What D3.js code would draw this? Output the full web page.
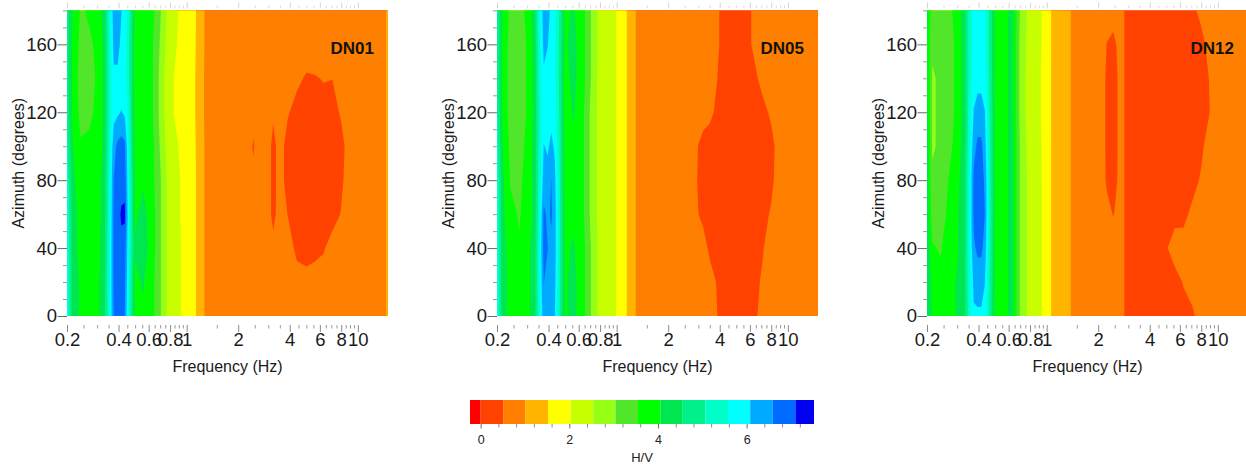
<!DOCTYPE html>
<html>
<head>
<meta charset="utf-8">
<script src="https://cdn.jsdelivr.net/npm/d3@7"></script>
<style>
  html, body { margin: 0; padding: 0; background: #ffffff; }
  svg { display: block; font-family: "Liberation Sans", Arial, Helvetica, sans-serif; }
</style>
</head>
<body>
<svg id="chart" width="1246" height="464"></svg>
<script>
// Frequency samples (Hz) of the H/V grids, one per column
const frequencies = [0.2, 0.215, 0.24, 0.27, 0.3, 0.33, 0.355, 0.375, 0.395, 0.415, 0.435, 0.455,
  0.5, 0.56, 0.63, 0.7, 0.78, 0.87, 0.97, 1.08, 1.2, 1.32,
  1.6, 2.0, 2.25, 2.45, 2.7, 3.0, 3.2, 3.5, 3.9, 4.4,
  5.0, 5.6, 6.3, 7.1, 8.0, 9.0, 11.0, 13.5, 14.4, 15.0];

// Azimuth samples (degrees), one per row
const azimuths = [0, 20, 40, 60, 80, 100, 120, 140, 160, 180];

const stations = ["DN01", "DN05", "DN12"];

// H/V ratio per azimuth row (0 -> 180 deg), per frequency column
const hvDN01 = [
  [5.7,4.3,4.0,3.8,3.9,4.4,5.6,6.6,6.8,6.8,6.6,5.6, 4.0,4.0,3.7,3.1,2.4,2.2,1.9,1.75,1.25,0.85, 0.75,0.72,0.72,0.72,0.72,0.72,0.72,0.72,0.7,0.7, 0.7,0.7,0.7,0.72,0.72,0.74,0.76,0.85,0.97,1.08],
  [5.7,4.3,4.0,3.8,3.9,4.4,5.6,6.7,6.9,6.9,6.7,5.7, 4.0,4.1,3.7,3.1,2.4,2.2,1.9,1.75,1.25,0.85, 0.75,0.72,0.72,0.72,0.72,0.72,0.7,0.68,0.66,0.6, 0.58,0.62,0.64,0.66,0.7,0.72,0.75,0.85,0.97,1.08],
  [5.6,4.3,3.9,3.8,3.9,4.3,5.6,6.7,6.9,7.0,6.85,5.8, 4.1,4.3,3.8,3.1,2.4,2.2,1.9,1.75,1.25,0.85, 0.75,0.72,0.72,0.7,0.7,0.68,0.6,0.64,0.62,0.45, 0.42,0.43,0.48,0.62,0.68,0.7,0.74,0.85,0.97,1.08],
  [5.6,4.3,3.9,3.7,3.8,4.3,5.5,6.7,6.95,7.15,7.2,5.9, 4.0,4.2,3.8,3.1,2.4,2.2,1.85,1.75,1.25,0.85, 0.75,0.72,0.7,0.64,0.68,0.62,0.42,0.64,0.5,0.4, 0.4,0.4,0.4,0.4,0.52,0.66,0.72,0.85,0.97,1.08],
  [5.4,4.2,3.8,3.7,3.8,4.3,5.5,6.6,6.9,6.95,6.9,5.8, 4.0,4.0,3.7,3.1,2.4,2.2,1.85,1.75,1.25,0.85, 0.75,0.72,0.68,0.56,0.66,0.62,0.42,0.62,0.4,0.4, 0.4,0.4,0.4,0.4,0.47,0.62,0.72,0.85,0.97,1.08],
  [5.2,4.1,3.6,3.6,3.7,4.2,5.4,6.4,6.7,6.8,6.7,5.7, 3.9,3.9,3.7,3.0,2.3,2.1,1.8,1.72,1.25,0.85, 0.75,0.72,0.68,0.48,0.68,0.62,0.42,0.62,0.4,0.4, 0.4,0.4,0.4,0.4,0.45,0.6,0.72,0.85,0.97,1.08],
  [4.9,4.0,3.4,3.5,3.6,4.2,5.3,5.9,6.0,6.1,6.0,5.5, 3.9,3.9,3.6,2.9,2.2,1.95,1.75,1.7,1.2,0.85, 0.75,0.72,0.7,0.6,0.7,0.66,0.55,0.62,0.53,0.42, 0.4,0.42,0.42,0.44,0.53,0.64,0.72,0.85,0.97,1.08],
  [4.8,4.0,3.3,3.4,3.6,4.2,5.3,6.0,6.0,5.9,5.8,5.3, 3.9,3.9,3.6,2.9,2.2,1.95,1.75,1.7,1.2,0.85, 0.75,0.72,0.72,0.7,0.72,0.7,0.68,0.66,0.62,0.56, 0.48,0.49,0.52,0.51,0.62,0.68,0.74,0.85,0.97,1.08],
  [4.8,4.0,3.4,3.5,3.6,4.2,5.4,6.2,6.2,6.0,5.8,5.3, 3.9,3.9,3.6,3.0,2.3,2.05,1.8,1.72,1.25,0.85, 0.75,0.72,0.72,0.72,0.72,0.72,0.72,0.7,0.68,0.66, 0.64,0.65,0.65,0.66,0.68,0.7,0.75,0.85,0.97,1.08],
  [4.9,4.1,3.5,3.6,3.7,4.3,5.5,6.3,6.3,6.1,5.9,5.4, 4.0,3.9,3.7,3.1,2.4,2.1,1.85,1.75,1.25,0.85, 0.75,0.72,0.72,0.72,0.72,0.72,0.72,0.72,0.7,0.7, 0.7,0.7,0.7,0.72,0.72,0.74,0.76,0.85,0.97,1.08]
];

const hvDN05 = [
  [5.7,4.3,3.9,3.7,3.9,4.3,5.5,6.4,6.3,6.3,6.1,5.4, 4.0,4.2,3.8,3.1,2.5,2.3,2.1,1.8,1.3,0.93, 0.76,0.74,0.72,0.7,0.68,0.66,0.64,0.62,0.5,0.42, 0.42,0.43,0.45,0.58,0.66,0.7,0.74,0.78,0.82,0.84],
  [5.7,4.3,3.9,3.7,3.9,4.3,5.6,6.6,6.5,6.4,6.2,5.5, 4.0,4.2,3.8,3.1,2.5,2.3,2.1,1.8,1.3,0.93, 0.76,0.74,0.72,0.7,0.68,0.66,0.63,0.6,0.48,0.42, 0.42,0.43,0.45,0.53,0.64,0.7,0.74,0.78,0.82,0.84],
  [5.6,4.3,3.8,3.6,3.9,4.3,5.6,6.75,6.6,6.5,6.3,5.5, 4.0,4.1,3.8,3.1,2.5,2.3,2.1,1.8,1.3,0.93, 0.76,0.74,0.72,0.7,0.67,0.64,0.6,0.46,0.42,0.4, 0.4,0.42,0.44,0.49,0.6,0.68,0.74,0.78,0.82,0.84],
  [5.6,4.2,3.7,3.5,3.8,4.2,5.5,6.7,6.5,6.65,6.3,5.5, 4.0,4.0,3.7,3.0,2.45,2.25,2.1,1.8,1.3,0.93, 0.76,0.74,0.72,0.7,0.65,0.51,0.45,0.42,0.4,0.4, 0.4,0.4,0.42,0.44,0.53,0.64,0.74,0.78,0.82,0.84],
  [5.5,4.2,3.5,3.4,3.8,4.2,5.4,6.3,6.3,6.6,6.2,5.5, 3.9,4.0,3.7,3.0,2.45,2.25,2.1,1.8,1.3,0.93, 0.76,0.74,0.72,0.7,0.66,0.48,0.42,0.4,0.4,0.4, 0.4,0.4,0.4,0.42,0.46,0.62,0.74,0.78,0.82,0.84],
  [5.3,4.1,3.4,3.3,3.7,4.2,5.3,6.1,6.0,6.2,6.0,5.4, 3.9,4.0,3.7,3.0,2.45,2.25,2.1,1.8,1.3,0.93, 0.76,0.74,0.72,0.7,0.66,0.5,0.43,0.4,0.4,0.4, 0.4,0.4,0.4,0.42,0.45,0.6,0.74,0.78,0.82,0.84],
  [5.1,4.0,3.3,3.2,3.6,4.2,5.3,5.9,5.9,5.9,5.8,5.3, 3.9,4.1,3.7,3.0,2.45,2.25,2.1,1.8,1.3,0.93, 0.76,0.74,0.72,0.7,0.68,0.64,0.6,0.56,0.45,0.42, 0.42,0.42,0.43,0.45,0.54,0.64,0.74,0.78,0.82,0.84],
  [5.0,4.0,3.3,3.2,3.6,4.2,5.4,6.0,5.9,5.8,5.7,5.2, 3.9,4.2,3.8,3.1,2.45,2.3,2.1,1.8,1.3,0.93, 0.76,0.74,0.72,0.7,0.68,0.66,0.64,0.62,0.5,0.44, 0.43,0.44,0.46,0.56,0.64,0.68,0.74,0.78,0.82,0.84],
  [5.0,4.0,3.3,3.2,3.6,4.2,5.5,6.2,6.1,5.9,5.7,5.2, 4.0,4.2,3.8,3.1,2.5,2.3,2.1,1.8,1.3,0.93, 0.76,0.74,0.72,0.7,0.68,0.66,0.64,0.62,0.52,0.44, 0.44,0.44,0.53,0.62,0.66,0.7,0.74,0.78,0.82,0.84],
  [5.1,4.1,3.4,3.3,3.7,4.3,5.6,6.3,6.2,6.0,5.8,5.3, 4.0,4.1,3.8,3.1,2.5,2.3,2.1,1.8,1.3,0.93, 0.76,0.74,0.72,0.7,0.68,0.66,0.64,0.62,0.52,0.44, 0.44,0.44,0.53,0.62,0.66,0.7,0.74,0.78,0.82,0.84]
];

const hvDN12 = [
  [4.5,4.0,3.8,3.9,4.1,4.4,5.4,6.0,6.0,6.0,5.9,5.3, 4.0,3.9,4.2,3.0,2.45,2.3,1.9,1.45,1.25,1.05, 0.9,0.75,0.72,0.7,0.56,0.45,0.42,0.4,0.4,0.4, 0.4,0.42,0.44,0.47,0.6,0.68,0.72,0.75,0.77,0.78],
  [4.5,3.9,3.7,3.9,4.1,4.4,5.5,6.2,6.3,6.3,6.1,5.4, 4.0,3.9,4.2,3.0,2.45,2.3,1.9,1.45,1.25,1.05, 0.9,0.75,0.7,0.68,0.56,0.45,0.42,0.4,0.4,0.4, 0.42,0.43,0.52,0.6,0.64,0.68,0.72,0.75,0.77,0.78],
  [4.5,3.6,3.5,3.8,4.0,4.4,5.6,6.5,6.7,6.7,6.4,5.5, 4.0,3.9,4.2,3.0,2.45,2.3,1.9,1.45,1.25,1.05, 0.9,0.72,0.66,0.6,0.56,0.45,0.42,0.4,0.4,0.42, 0.49,0.6,0.58,0.6,0.64,0.68,0.72,0.75,0.77,0.78],
  [4.4,3.3,3.3,3.7,4.0,4.4,5.6,6.7,6.9,6.85,6.6,5.6, 4.0,3.9,4.2,3.0,2.45,2.3,1.9,1.45,1.25,1.05, 0.9,0.68,0.56,0.5,0.56,0.45,0.42,0.4,0.4,0.4, 0.42,0.44,0.46,0.55,0.62,0.68,0.72,0.75,0.77,0.78],
  [4.4,3.1,3.2,3.6,3.9,4.4,5.6,6.7,6.9,6.85,6.5,5.6, 4.0,3.9,4.2,3.0,2.45,2.3,1.9,1.45,1.25,1.05, 0.9,0.64,0.48,0.44,0.56,0.45,0.42,0.4,0.4,0.4, 0.4,0.4,0.42,0.44,0.53,0.64,0.7,0.75,0.77,0.78],
  [4.3,3.0,3.1,3.4,3.8,4.3,5.5,6.4,6.7,6.7,6.3,5.5, 4.0,3.9,4.2,3.0,2.4,2.25,1.9,1.45,1.25,1.05, 0.9,0.62,0.48,0.43,0.56,0.45,0.42,0.4,0.4,0.4, 0.4,0.4,0.4,0.42,0.47,0.6,0.68,0.75,0.77,0.78],
  [4.2,3.0,3.1,3.3,3.7,4.3,5.4,6.1,6.3,6.3,6.1,5.4, 4.0,3.9,4.2,2.9,2.35,2.2,1.9,1.45,1.25,1.05, 0.9,0.62,0.48,0.43,0.56,0.45,0.42,0.4,0.4,0.4, 0.4,0.4,0.4,0.4,0.42,0.51,0.66,0.75,0.77,0.78],
  [4.1,3.0,3.1,3.3,3.7,4.3,5.3,5.9,5.9,5.9,5.8,5.3, 4.0,3.9,4.2,2.9,2.35,2.2,1.9,1.45,1.25,1.05, 0.9,0.62,0.48,0.43,0.56,0.45,0.42,0.4,0.4,0.4, 0.4,0.4,0.4,0.4,0.42,0.52,0.66,0.75,0.77,0.78],
  [4.1,3.1,3.1,3.3,3.7,4.3,5.3,5.8,5.8,5.8,5.7,5.2, 4.0,3.9,4.2,2.9,2.4,2.25,1.9,1.45,1.25,1.05, 0.9,0.64,0.5,0.47,0.56,0.45,0.42,0.4,0.4,0.4, 0.4,0.4,0.4,0.42,0.45,0.58,0.68,0.75,0.77,0.78],
  [4.2,3.2,3.2,3.4,3.8,4.3,5.3,5.8,5.8,5.8,5.7,5.2, 4.0,3.9,4.2,3.0,2.45,2.3,1.9,1.45,1.25,1.05, 0.9,0.68,0.6,0.57,0.56,0.45,0.42,0.4,0.4,0.4, 0.4,0.4,0.42,0.46,0.56,0.64,0.7,0.75,0.77,0.78]
];

// Colour classes: lower bound of each band and its fill
const levelFloors = [-0.24, 0, 0.507, 1.014, 1.52, 2.03, 2.54, 3.04, 3.55, 4.06, 4.56, 5.07, 5.58, 6.08, 6.59, 7.10];
const levelColors = ["#ff0000", "#ff4200", "#ff8000", "#ffb400", "#ffff00", "#c8ff00", "#96ff14", "#52e62a",
  "#00ff00", "#00e650", "#00f08c", "#00ffc8", "#00ffff", "#00aaff", "#006cff", "#0000f0"];
const levelCeiling = 7.52;

// Axis ticks
const xTickValues = [0.2, 0.4, 0.6, 0.8, 1, 2, 4, 6, 8, 10];
const xMinorTicks = [0.25, 0.3, 0.35, 0.45, 0.5, 0.55, 0.65, 0.7, 0.75, 0.85, 0.9, 0.95,
  1.5, 2.5, 3, 3.5, 4.5, 5, 5.5, 6.5, 7, 7.5, 8.5, 9, 9.5];
const yTickValues = [0, 40, 80, 120, 160];
const yMinorTicks = [10, 20, 30, 50, 60, 70, 90, 100, 110, 130, 140, 150, 170, 180];
const colorbarTicks = [0, 2, 4, 6];
const colorbarMinorTicks = [0.4, 0.8, 1.2, 1.6, 2.4, 2.8, 3.2, 3.6, 4.4, 4.8, 5.2, 5.6, 6.4, 6.8, 7.2];

const stationGrids = [hvDN01, hvDN05, hvDN12];

// ---- layout ----
const svg = d3.select("#chart");
const plotW = 321, plotH = 305.6, plotTop = 10.4;
const panelLeft = [67, 497, 927];

const x = d3.scaleLog().domain([0.2, 15]).range([0, plotW]);
const y = d3.scaleLinear().domain([0, 180]).range([plotH, 0]);

const nx = frequencies.length, ny = azimuths.length;

// Grid coordinate (sample centres at i + 0.5) -> pixel, linear between samples on each scale
function gridToPixel(c, samples, scale) {
  const s = Math.max(0, Math.min(samples.length - 1, c - 0.5));
  const i = Math.min(samples.length - 2, Math.floor(s));
  const t = s - i;
  return scale(samples[i]) * (1 - t) + scale(samples[i + 1]) * t;
}
const gridProjection = d3.geoTransform({
  point(px, py) {
    this.stream.point(gridToPixel(px, frequencies, x), gridToPixel(py, azimuths, y));
  }
});
const contourPath = d3.geoPath(gridProjection);
const contourGen = d3.contours().size([nx, ny]).thresholds(levelFloors);
const colorOf = v => levelColors[levelFloors.indexOf(v)];

const tickText = "#1a1a1a";
const fontStack = "Liberation Sans, Arial, sans-serif";

stations.forEach((name, k) => {
  const g = svg.append("g").attr("transform", `translate(${panelLeft[k]},${plotTop})`);
  const values = stationGrids[k].flat();

  g.append("g")
    .selectAll("path")
    .data(contourGen(values))
    .join("path")
    .attr("d", contourPath)
    .attr("fill", d => colorOf(d.value));

  // bottom axis: labelled ticks plus minor ticks
  const bottom = g.append("g").attr("transform", `translate(0,${plotH + 9})`);
  bottom.append("g")
    .call(d3.axisBottom(x).tickValues(xMinorTicks).tickSize(3.5).tickFormat(""))
    .call(a => a.select(".domain").remove())
    .call(a => a.selectAll("line").attr("stroke", "#9a9a9a"));
  bottom.append("g")
    .call(d3.axisBottom(x).tickValues(xTickValues).tickSize(7).tickPadding(1).tickFormat(d => String(d)))
    .call(a => a.select(".domain").remove())
    .call(a => a.selectAll("line").attr("stroke", "#8a8a8a"))
    .call(a => a.selectAll("text").attr("font-size", 18.5).attr("fill", tickText)
      .attr("font-family", fontStack));

  // faint ticks along the top edge
  const top = g.append("g").attr("transform", "translate(0,-2)");
  top.append("g")
    .call(d3.axisTop(x).tickValues(xMinorTicks).tickSize(3).tickFormat(""))
    .call(a => a.select(".domain").remove())
    .call(a => a.selectAll("line").attr("stroke", "#dcdcdc"));
  top.append("g")
    .call(d3.axisTop(x).tickValues(xTickValues).tickSize(6).tickFormat(""))
    .call(a => a.select(".domain").remove())
    .call(a => a.selectAll("line").attr("stroke", "#d4d4d4"));

  // left axis
  g.append("g")
    .call(d3.axisLeft(y).tickValues(yMinorTicks).tickSize(4).tickFormat(""))
    .call(a => a.select(".domain").remove())
    .call(a => a.selectAll("line").attr("stroke", "#9a9a9a"));
  g.append("g")
    .call(d3.axisLeft(y).tickValues(yTickValues).tickSize(9.5).tickPadding(0.5).tickFormat(d => String(d)))
    .call(a => a.select(".domain").remove())
    .call(a => a.selectAll("line").attr("stroke", "#6a6a6a"))
    .call(a => a.selectAll("text").attr("font-size", 18.5).attr("fill", tickText)
      .attr("font-family", fontStack));

  // axis titles
  g.append("text")
    .attr("x", plotW / 2).attr("y", 361.8)
    .attr("text-anchor", "middle").attr("font-size", 16).attr("fill", tickText)
    .text("Frequency (Hz)");
  g.append("text")
    .attr("transform", `translate(${23.5 - 67},${plotH / 2}) rotate(-90)`)
    .attr("text-anchor", "middle").attr("font-size", 16).attr("fill", tickText)
    .text("Azimuth (degrees)");

  // station name
  g.append("text")
    .attr("x", 307).attr("y", 43.8)
    .attr("text-anchor", "end").attr("font-size", 17).attr("font-weight", "bold").attr("fill", "#111")
    .text(name);
});

// ---- colour bar ----
const cb = d3.scaleLinear().domain([levelFloors[0], levelCeiling]).range([470, 814]);
const cbTop = 400, cbH = 24;
const bandEdges = levelFloors.concat([levelCeiling]);
const bar = svg.append("g");
bar.selectAll("rect")
  .data(levelColors)
  .join("rect")
  .attr("x", (c, i) => cb(bandEdges[i]))
  .attr("width", (c, i) => cb(bandEdges[i + 1]) - cb(bandEdges[i]))
  .attr("y", cbTop).attr("height", cbH)
  .attr("fill", c => c);

const cbAxis = svg.append("g").attr("transform", `translate(0,${cbTop + cbH})`);
cbAxis.append("g")
  .call(d3.axisBottom(cb).tickValues(colorbarMinorTicks).tickSize(3.5).tickFormat(""))
  .call(a => a.select(".domain").remove())
  .call(a => a.selectAll("line").attr("stroke", "#8a8a8a"));
cbAxis.append("g")
  .call(d3.axisBottom(cb).tickValues(colorbarTicks).tickSize(4.5).tickPadding(6.5).tickFormat(d => String(d)))
  .call(a => a.select(".domain").remove())
  .call(a => a.selectAll("line").attr("stroke", "#6a6a6a"))
  .call(a => a.selectAll("text").attr("font-size", 12.5).attr("fill", "#222")
    .attr("font-family", fontStack));

svg.append("text")
  .attr("x", 642).attr("y", 461.7)
  .attr("text-anchor", "middle").attr("font-size", 13).attr("fill", "#222")
  .text("H/V");
</script>
</body>
</html>
